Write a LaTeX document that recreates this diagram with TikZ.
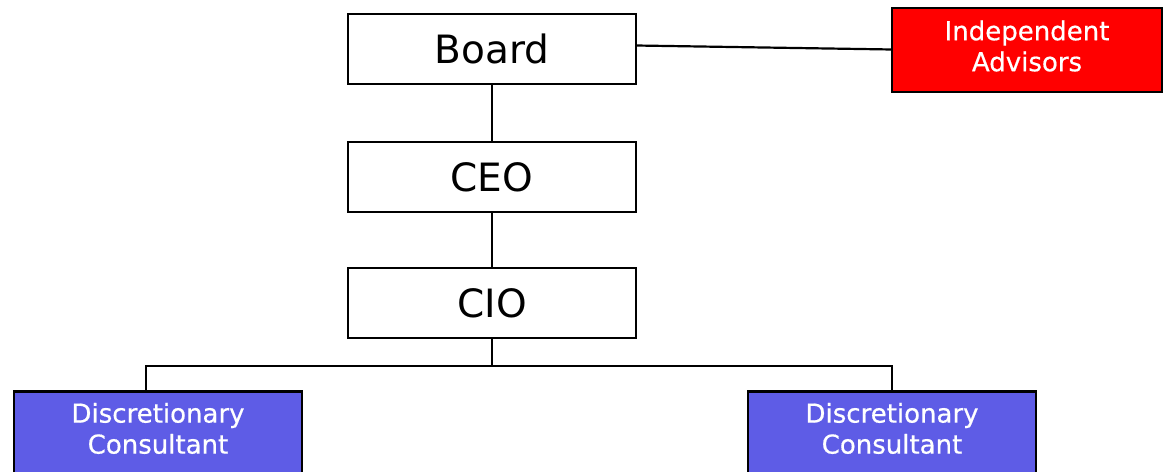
\documentclass[tikz,border=0pt]{standalone}
\usepackage{fontspec}
\setmainfont{DejaVu Sans}
\definecolor{consblue}{RGB}{94,92,230}
\definecolor{advred}{RGB}{255,0,0}
\begin{document}
\begin{tikzpicture}[x=1pt,y=-1pt,
  orgbox/.style={draw=black,line width=2.8pt,fill=white,minimum width=288pt,minimum height=70pt,inner sep=0pt,font=\fontsize{39}{42}\selectfont},
  colbox/.style={draw=black,line width=2.8pt,minimum width=288pt,minimum height=84pt,inner sep=0pt,text=white,align=center,font=\fontsize{26}{31}\selectfont\addfontfeature{FakeBold=0.6}},
  conn/.style={line width=2.8pt}]
\clip (0,0) rectangle (1164,471);
\fill[white] (0,0) rectangle (1164,471);
\node[orgbox] (board) at (492,49) {Board};
\node[orgbox] (ceo) at (492,177) {CEO};
\node[orgbox] (cio) at (492,303) {CIO};
\node[colbox,fill=advred,minimum width=270pt] (adv) at (1027,50) {\raisebox{4pt}[\height][\depth]{\parbox{260pt}{\centering Independent\\Advisors}}};
\node[colbox,fill=consblue,anchor=north] (cl) at (158,390) {\raisebox{5pt}[\height][\depth]{\parbox{280pt}{\centering Discretionary\\Consultant}}};
\node[colbox,fill=consblue,anchor=north] (cr) at (892,390) {\raisebox{5pt}[\height][\depth]{\parbox{280pt}{\centering Discretionary\\Consultant}}};
\coordinate (bl) at (636,45.5);
\coordinate (ar) at (892,49.5);
\draw[line width=2.2pt] (bl) -- (ar);
\draw[conn] (board.south) -- (ceo.north);
\draw[conn] (ceo.south) -- (cio.north);
\coordinate (bus) at (492,366);
\coordinate (busl) at (146,366);
\coordinate (busr) at (892,366);
\coordinate (dl) at (146,390);
\draw[conn] (cio.south) -- (bus);
\draw[conn] (dl) -- (busl) -- (busr) -- (cr.north);
\end{tikzpicture}
\end{document}
